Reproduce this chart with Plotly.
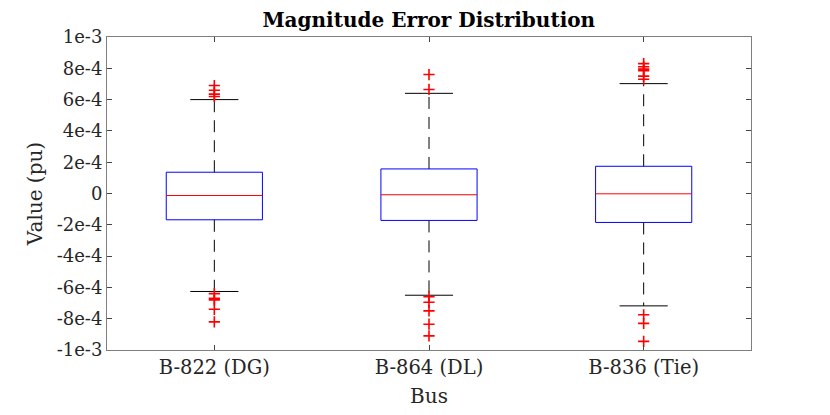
import plotly.graph_objects as go

# Bus categories and box statistics
buses = ["B-822 (DG)", "B-864 (DL)", "B-836 (Tie)"]
q1 = [-1.68e-4, -1.72e-4, -1.85e-4]
median = [-1.3e-5, -8e-6, -2e-6]
q3 = [1.36e-4, 1.57e-4, 1.74e-4]
lower_whisker = [-6.26e-4, -6.50e-4, -7.18e-4]
upper_whisker = [6.00e-4, 6.40e-4, 7.02e-4]

# outliers per bus
out_822 = [6.9e-4, 6.6e-4, 6.35e-4, 6.2e-4, -6.4e-4, -6.7e-4, -6.8e-4, -7.4e-4, -8.2e-4]
out_864 = [7.6e-4, 6.65e-4, -6.6e-4, -6.95e-4, -7.5e-4, -8.35e-4, -9.1e-4]
out_836 = [8.3e-4, 8.1e-4, 7.95e-4, 7.85e-4, 7.5e-4, 7.3e-4, -7.75e-4, -8.3e-4, -9.45e-4]
outliers = [out_822, out_864, out_836]

yticks = [1e-3, 8e-4, 6e-4, 4e-4, 2e-4, 0, -2e-4, -4e-4, -6e-4, -8e-4, -1e-3]
ytick_text = ["1e-3", "8e-4", "6e-4", "4e-4", "2e-4", "0",
              "-2e-4", "-4e-4", "-6e-4", "-8e-4", "-1e-3"]

FONT = "DejaVu Serif"
box_half = 0.224
cap_half = 0.112
pos = [1, 2, 3]

fig = go.Figure()

for i, p in enumerate(pos):
    # whiskers (dashed black)
    fig.add_trace(go.Scatter(
        x=[p, p], y=[q3[i], upper_whisker[i]], mode="lines",
        line=dict(color="black", width=1, dash="12px,8px"),
        showlegend=False, hoverinfo="skip"))
    fig.add_trace(go.Scatter(
        x=[p, p], y=[q1[i], lower_whisker[i]], mode="lines",
        line=dict(color="black", width=1, dash="12px,8px"),
        showlegend=False, hoverinfo="skip"))
    # caps
    for w in (upper_whisker[i], lower_whisker[i]):
        fig.add_trace(go.Scatter(
            x=[p - cap_half, p + cap_half], y=[w, w], mode="lines",
            line=dict(color="black", width=1),
            showlegend=False, hoverinfo="skip"))
    # box
    fig.add_trace(go.Scatter(
        x=[p - box_half, p + box_half, p + box_half, p - box_half, p - box_half],
        y=[q1[i], q1[i], q3[i], q3[i], q1[i]], mode="lines",
        line=dict(color="blue", width=1),
        showlegend=False, hoverinfo="skip"))
    # median
    fig.add_trace(go.Scatter(
        x=[p - box_half, p + box_half], y=[median[i], median[i]], mode="lines",
        line=dict(color="red", width=1),
        showlegend=False, hoverinfo="skip"))
    # outliers
    fig.add_trace(go.Scatter(
        x=[p] * len(outliers[i]), y=outliers[i], mode="markers",
        marker=dict(symbol="cross-thin", size=8, color="red",
                    line=dict(color="red", width=1.6)),
        showlegend=False))

axis_common = dict(
    showline=True, linecolor="#7f7f7f", linewidth=1, mirror="ticks",
    ticks="inside", ticklen=5, tickcolor="#444", showgrid=False, zeroline=False,
    automargin=False,
)

fig.update_layout(
    width=830, height=415,
    paper_bgcolor="white", plot_bgcolor="white",
    margin=dict(l=99, r=87, t=29, b=73),
    title=dict(text="<b>Magnitude Error Distribution</b>", x=0.507, xanchor="center",
               y=0.988, yanchor="top", automargin=False,
               font=dict(family=FONT, size=20, color="black")),
    xaxis=dict(range=[0.5, 3.5], tickvals=pos, ticktext=buses,
               tickfont=dict(family=FONT, size=19.5, color="#262626"),
               title=dict(text="Bus", standoff=10,
                          font=dict(family=FONT, size=20, color="#262626")),
               **axis_common),
    yaxis=dict(range=[-1e-3, 1e-3], tickvals=yticks, ticktext=ytick_text,
               tickfont=dict(family=FONT, size=18, color="#262626"),
               title=dict(text="Value (pu)", standoff=8,
                          font=dict(family=FONT, size=20, color="#262626")),
               **axis_common),
)

fig.write_html("out.html")
